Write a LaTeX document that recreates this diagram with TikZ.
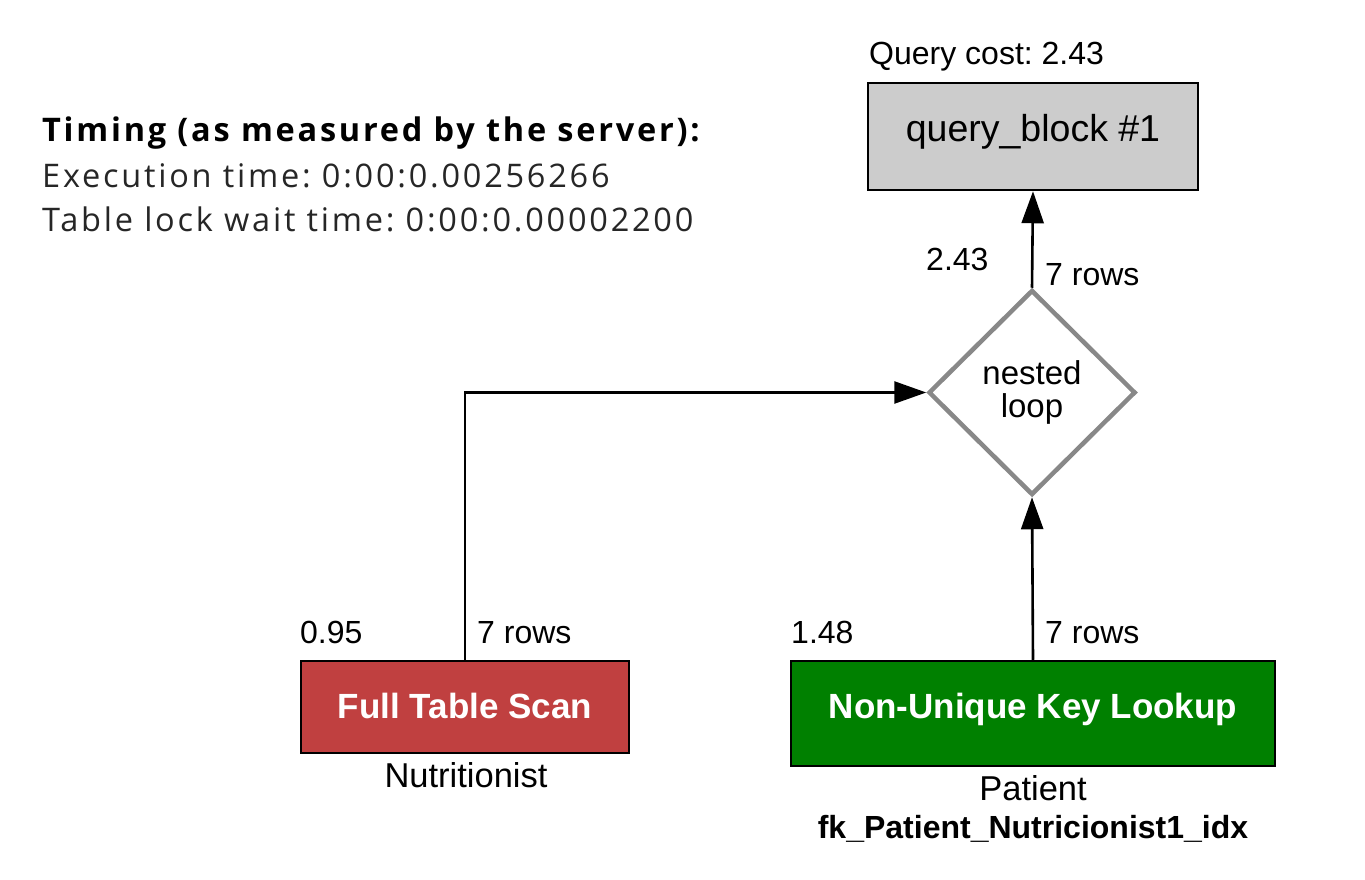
\documentclass[tikz,border=0pt]{standalone}
\usepackage{fontspec}
\setmainfont{Liberation Sans}
\newfontfamily\timingfont[LetterSpace=8.5]{Open Sans}
\usetikzlibrary{arrows.meta,shapes.geometric,positioning}
\definecolor{scanred}{HTML}{C04040}
\definecolor{lookupgreen}{HTML}{008000}
\definecolor{blockgray}{HTML}{CCCCCC}
\definecolor{loopgray}{HTML}{888888}
\newcommand{\fsz}[1]{\fontsize{#1}{#1}\selectfont}
\frenchspacing
\begin{document}
\begin{tikzpicture}[x=1pt, y=-1pt, font=\fsz{32},
  opbox/.style={draw=black, line width=2.5pt, inner sep=0pt, text height=24pt},
  flow/.style={line width=2.6pt, -{Triangle[length=32pt,width=22pt]}},
  lbl/.style={inner sep=0pt, anchor=base west},
  tbl/.style={inner sep=0pt, anchor=base}]
  \useasboundingbox (0,0) rectangle (1365,880);
  \node[lbl, font=\timingfont\bfseries\fsz{32.5}] (timing) at (42,142) {Timing (as measured by the server):};
  \node[lbl, font=\timingfont\fsz{32.5}, text=black!85] (exectime) at (42,187) {Execution time: 0:00:0.00256266};
  \node[lbl, font=\timingfont\fsz{32.5}, text=black!85] (locktime) at (42,231) {Table lock wait time: 0:00:0.00002200};
  \node[lbl] (cost) at (869,65) {Query cost: 2.43};
  \node[opbox, fill=blockgray, minimum width=330pt, minimum height=107pt, text depth=13pt, font=\fsz{37.5}] (qblock) at (1033,136.5) {query\_block \#1};
  \node[draw=loopgray, line width=4.5pt, shape=diamond, minimum width=207pt, minimum height=205pt, align=center, inner sep=0pt, font=\fsz{33}] (loop) at (1032,392.5) {nested\\loop};
  \node[opbox, fill=scanred, text=white, font=\bfseries\fsz{35}, minimum width=328pt, minimum height=92pt, text depth=2pt] (scan) at (465,707) {Full Table Scan};
  \node[opbox, fill=lookupgreen, text=white, font=\bfseries\fsz{35}, minimum width=484pt, minimum height=105pt, text depth=15pt] (lookup) at (1033,713.5) {Non-Unique Key Lookup};
  \node[tbl, font=\fsz{34.5}] (scantable) at (466,787) {Nutritionist};
  \node[tbl, font=\fsz{34.5}] (lookuptable) at (1033,800) {Patient};
  \node[tbl, font=\bfseries\fsz{32}] (lookupkey) at (1033,838) {fk\_Patient\_Nutricionist1\_idx};
  \node[lbl] (loopcost) at (926,270) {2.43};
  \node[lbl] (looprows) at (1045,285) {7 rows};
  \node[lbl] (scancost) at (300,643) {0.95};
  \node[lbl] (scanrows) at (477,643) {7 rows};
  \node[lbl] (lookupcost) at (791,643) {1.48};
  \node[lbl] (lookuprows) at (1045,643) {7 rows};
  \draw[flow] (loop.north) -- (qblock.south);
  \draw[flow] (scan.north) |- (loop.west);
  \draw[flow] (lookup.north) -- (loop.south);
\end{tikzpicture}
\end{document}
